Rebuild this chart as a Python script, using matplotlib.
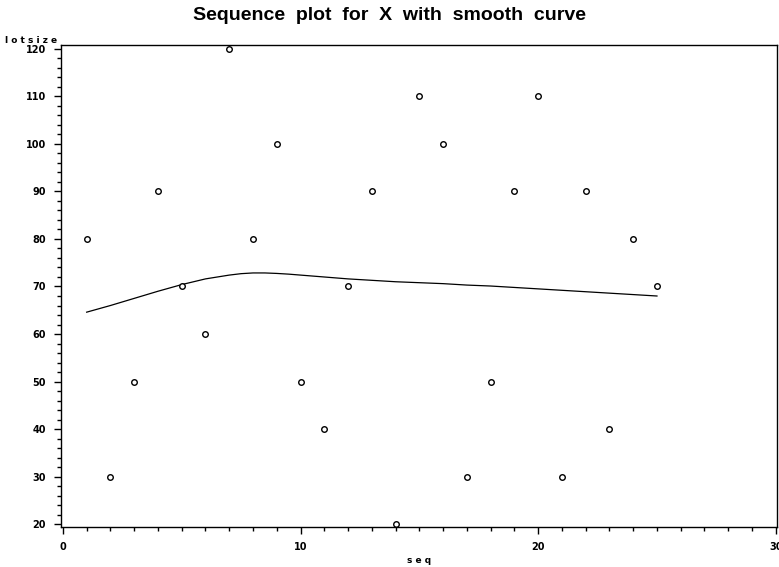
import matplotlib
matplotlib.use("Agg")
import matplotlib.pyplot as plt
from matplotlib.ticker import MultipleLocator

# Data: lot size by sequence number
seq = list(range(1, 26))
lotsize = [80, 30, 50, 90, 70, 60, 120, 80, 100, 50, 40, 70, 90,
           20, 110, 100, 30, 50, 90, 110, 30, 90, 40, 80, 70]

# smooth curve
smooth_x = [1, 2, 3, 4, 5, 6, 7, 7.5, 8, 8.5, 9, 9.5, 10, 11, 12, 13, 14, 15, 16,
            17, 18, 19, 20, 21, 22, 23, 24, 25]
smooth_y = [64.6, 66.0, 67.5, 69.0, 70.4, 71.6, 72.4, 72.7, 72.85, 72.85, 72.75, 72.6,
            72.4, 72.0, 71.6, 71.3, 71.0, 70.8, 70.6, 70.3, 70.1, 69.8, 69.5,
            69.2, 68.9, 68.6, 68.3, 68.0]

fig = plt.figure(figsize=(7.79, 5.67), dpi=100)
ax = fig.add_axes([0.0783, 0.0705, 0.9191, 0.8501])

ax.plot(smooth_x, smooth_y, color='black', linewidth=0.9)
ax.plot(seq, lotsize, linestyle='none', marker='o', markersize=4,
        markerfacecolor='white', markeredgecolor='black', markeredgewidth=1.0)

ax.set_xlim(-0.08, 30.05)
ax.set_ylim(19.4, 120.8)
ax.xaxis.set_major_locator(MultipleLocator(10))
ax.xaxis.set_minor_locator(MultipleLocator(1))
ax.yaxis.set_major_locator(MultipleLocator(10))
ax.yaxis.set_minor_locator(MultipleLocator(2))
ax.tick_params(which='major', direction='out', length=5, width=1, labelsize=7, pad=6)
ax.tick_params(which='minor', direction='out', length=3, width=1)
for lab in ax.get_xticklabels() + ax.get_yticklabels():
    lab.set_fontweight('bold')
for sp in ax.spines.values():
    sp.set_linewidth(1)

fig.text(0.50, 0.973, 'Sequence  plot  for  X  with  smooth  curve', ha='center', va='center',
         fontsize=14, fontweight='bold', family='Liberation Sans')
fig.text(0.006, 0.928, 'l o t s i z e', ha='left', va='center', fontsize=6.5, fontweight='bold')
fig.text(0.538, 0.012, 's e q', ha='center', va='center', fontsize=6.5, fontweight='bold')

fig.savefig('out.png', dpi=100)
